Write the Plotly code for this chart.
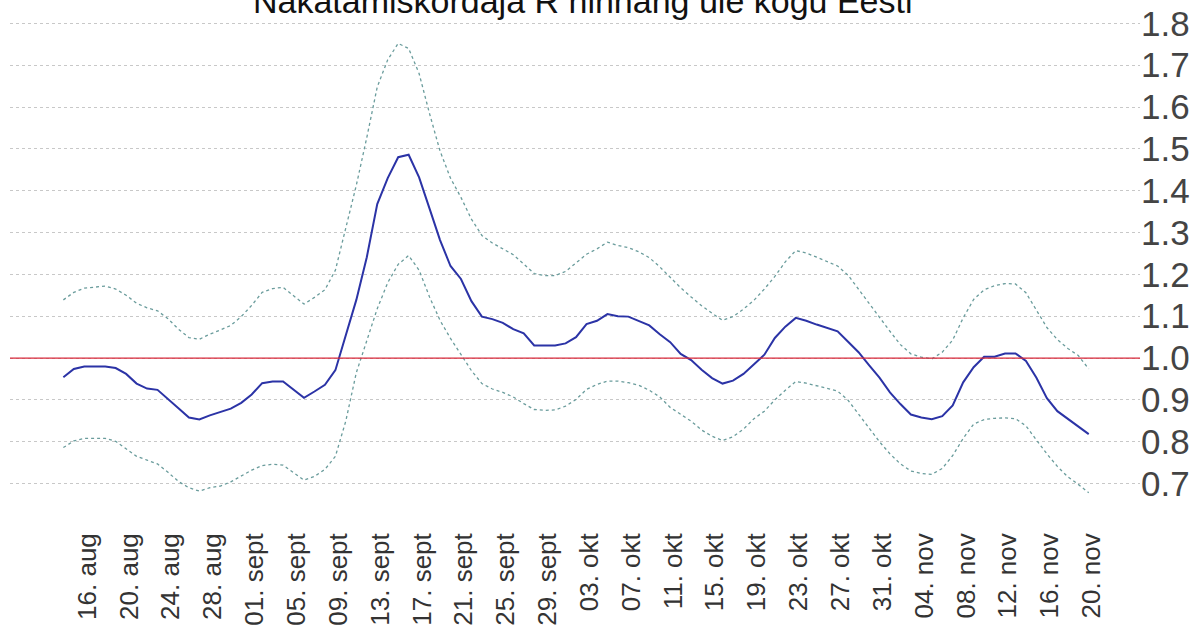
import pandas as pd
import plotly.graph_objects as go

TITLE = "Nakatamiskordaja R hinnang üle kogu Eesti"
START_DATE = "2020-08-14"

r_estimate = [
    0.954, 0.974, 0.980, 0.980, 0.980, 0.976, 0.962, 0.939, 0.927, 0.924,
    0.903, 0.880, 0.858, 0.853, 0.863, 0.871, 0.879, 0.893, 0.913, 0.940,
    0.944, 0.944, 0.924, 0.905, 0.920, 0.936, 0.971, 1.054, 1.139, 1.241,
    1.368, 1.430, 1.480, 1.486, 1.432, 1.357, 1.282, 1.220, 1.189, 1.136,
    1.099, 1.093, 1.084, 1.069, 1.059, 1.030, 1.030, 1.030, 1.035, 1.050,
    1.081, 1.089, 1.105, 1.100, 1.099, 1.089, 1.078, 1.057, 1.038, 1.010,
    0.995, 0.972, 0.952, 0.939, 0.946, 0.962, 0.984, 1.008, 1.048, 1.075,
    1.096, 1.089, 1.080, 1.072, 1.064, 1.039, 1.014, 0.983, 0.953, 0.918,
    0.890, 0.865, 0.858, 0.854, 0.861, 0.887, 0.942, 0.978, 1.003, 1.003,
    1.011, 1.011, 0.993, 0.953, 0.904, 0.873, 0.854, 0.836, 0.818,
]

r_upper = [
    1.139, 1.157, 1.167, 1.170, 1.172, 1.165, 1.150, 1.131, 1.120, 1.113,
    1.094, 1.069, 1.049, 1.045, 1.057, 1.067, 1.078, 1.099, 1.126, 1.157,
    1.166, 1.169, 1.149, 1.129, 1.145, 1.163, 1.210, 1.310, 1.413, 1.527,
    1.648, 1.713, 1.752, 1.740, 1.680, 1.584, 1.495, 1.430, 1.384, 1.332,
    1.293, 1.275, 1.262, 1.247, 1.225, 1.202, 1.197, 1.197, 1.207, 1.227,
    1.248, 1.261, 1.277, 1.269, 1.264, 1.254, 1.240, 1.218, 1.193, 1.168,
    1.146, 1.125, 1.107, 1.090, 1.099, 1.117, 1.138, 1.165, 1.195, 1.230,
    1.257, 1.251, 1.241, 1.231, 1.220, 1.198, 1.164, 1.131, 1.097, 1.064,
    1.032, 1.010, 1.002, 0.998, 1.014, 1.043, 1.096, 1.140, 1.163, 1.173,
    1.178, 1.177, 1.156, 1.115, 1.073, 1.044, 1.023, 1.006, 0.974,
]

r_lower = [
    0.786, 0.802, 0.808, 0.808, 0.808, 0.801, 0.783, 0.765, 0.756, 0.747,
    0.727, 0.705, 0.690, 0.682, 0.690, 0.694, 0.704, 0.718, 0.732, 0.743,
    0.746, 0.744, 0.726, 0.708, 0.717, 0.734, 0.765, 0.850, 0.965, 1.040,
    1.118, 1.180, 1.224, 1.245, 1.210, 1.146, 1.090, 1.047, 1.007, 0.970,
    0.939, 0.926, 0.918, 0.907, 0.891, 0.877, 0.875, 0.876, 0.885, 0.901,
    0.925, 0.937, 0.945, 0.945, 0.941, 0.935, 0.923, 0.907, 0.882, 0.865,
    0.849, 0.828, 0.813, 0.803, 0.812, 0.830, 0.855, 0.873, 0.900, 0.923,
    0.944, 0.940, 0.934, 0.928, 0.921, 0.899, 0.866, 0.833, 0.800, 0.771,
    0.747, 0.730, 0.724, 0.722, 0.736, 0.767, 0.808, 0.842, 0.853, 0.856,
    0.857, 0.855, 0.838, 0.804, 0.771, 0.741, 0.716, 0.698, 0.678,
]

tick_dates = [
    "2020-08-16", "2020-08-20", "2020-08-24", "2020-08-28",
    "2020-09-01", "2020-09-05", "2020-09-09", "2020-09-13", "2020-09-17",
    "2020-09-21", "2020-09-25", "2020-09-29",
    "2020-10-03", "2020-10-07", "2020-10-11", "2020-10-15", "2020-10-19",
    "2020-10-23", "2020-10-27", "2020-10-31",
    "2020-11-04", "2020-11-08", "2020-11-12", "2020-11-16", "2020-11-20",
]
tick_labels = [
    "16. aug", "20. aug", "24. aug", "28. aug",
    "01. sept", "05. sept", "09. sept", "13. sept", "17. sept",
    "21. sept", "25. sept", "29. sept",
    "03. okt", "07. okt", "11. okt", "15. okt", "19. okt",
    "23. okt", "27. okt", "31. okt",
    "04. nov", "08. nov", "12. nov", "16. nov", "20. nov",
]
y_ticks = [0.7, 0.8, 0.9, 1.0, 1.1, 1.2, 1.3, 1.4, 1.5, 1.6, 1.7, 1.8]
REFERENCE_LEVEL = 1.0

dates = pd.date_range(START_DATE, periods=len(r_estimate), freq="D")

FONT = "Liberation Sans, Arial, sans-serif"
band_style = dict(color="#6a9c9c", width=1.3, dash="dot")

fig = go.Figure()
fig.add_trace(go.Scatter(x=dates, y=r_upper, mode="lines", line=band_style,
                         name="ülemine piir", hoverinfo="x+y"))
fig.add_trace(go.Scatter(x=dates, y=r_lower, mode="lines", line=band_style,
                         name="alumine piir", hoverinfo="x+y"))
fig.add_trace(go.Scatter(x=dates, y=r_estimate, mode="lines",
                         line=dict(color="#2b33a6", width=2),
                         name="R", hoverinfo="x+y"))

fig.add_shape(type="line", xref="paper", x0=0, x1=1, yref="y",
              y0=REFERENCE_LEVEL, y1=REFERENCE_LEVEL,
              line=dict(color="#d8283a", width=1.2), layer="above")

x_start = dates[0] - pd.Timedelta(days=5.1)
x_end = dates[0] + pd.Timedelta(days=102.9)

fig.update_layout(
    width=1204, height=625,
    paper_bgcolor="white", plot_bgcolor="white",
    margin=dict(l=10, r=64, t=0, b=103, autoexpand=False),
    showlegend=False,
    title=dict(text=TITLE, x=0.484, xanchor="center", y=0.979, yanchor="bottom",
               font=dict(family=FONT, size=34, color="#111111")),
    xaxis=dict(
        type="date", range=[x_start, x_end], automargin=False,
        tickmode="array", tickvals=tick_dates, ticktext=tick_labels,
        tickangle=-90, showgrid=False, zeroline=False, showline=False,
        ticks="", ticklabelshift=3, ticklabelstandoff=5,
        tickfont=dict(family=FONT, size=26, color="#333333"),
    ),
    yaxis=dict(
        side="right", range=[0.6081, 1.8558], automargin=False,
        tickmode="array", tickvals=y_ticks,
        ticktext=[f"{v:.1f}" for v in y_ticks],
        showgrid=True, gridcolor="#c8c8c8", griddash="dot", gridwidth=1,
        zeroline=False, showline=False, ticks="",
        tickfont=dict(family=FONT, size=35, color="#444444"),
    ),
)

fig.write_html(
    "out.html",
    config={"displayModeBar": False},
    post_script="document.body.style.margin='0px';document.body.style.overflow='hidden';",
)
